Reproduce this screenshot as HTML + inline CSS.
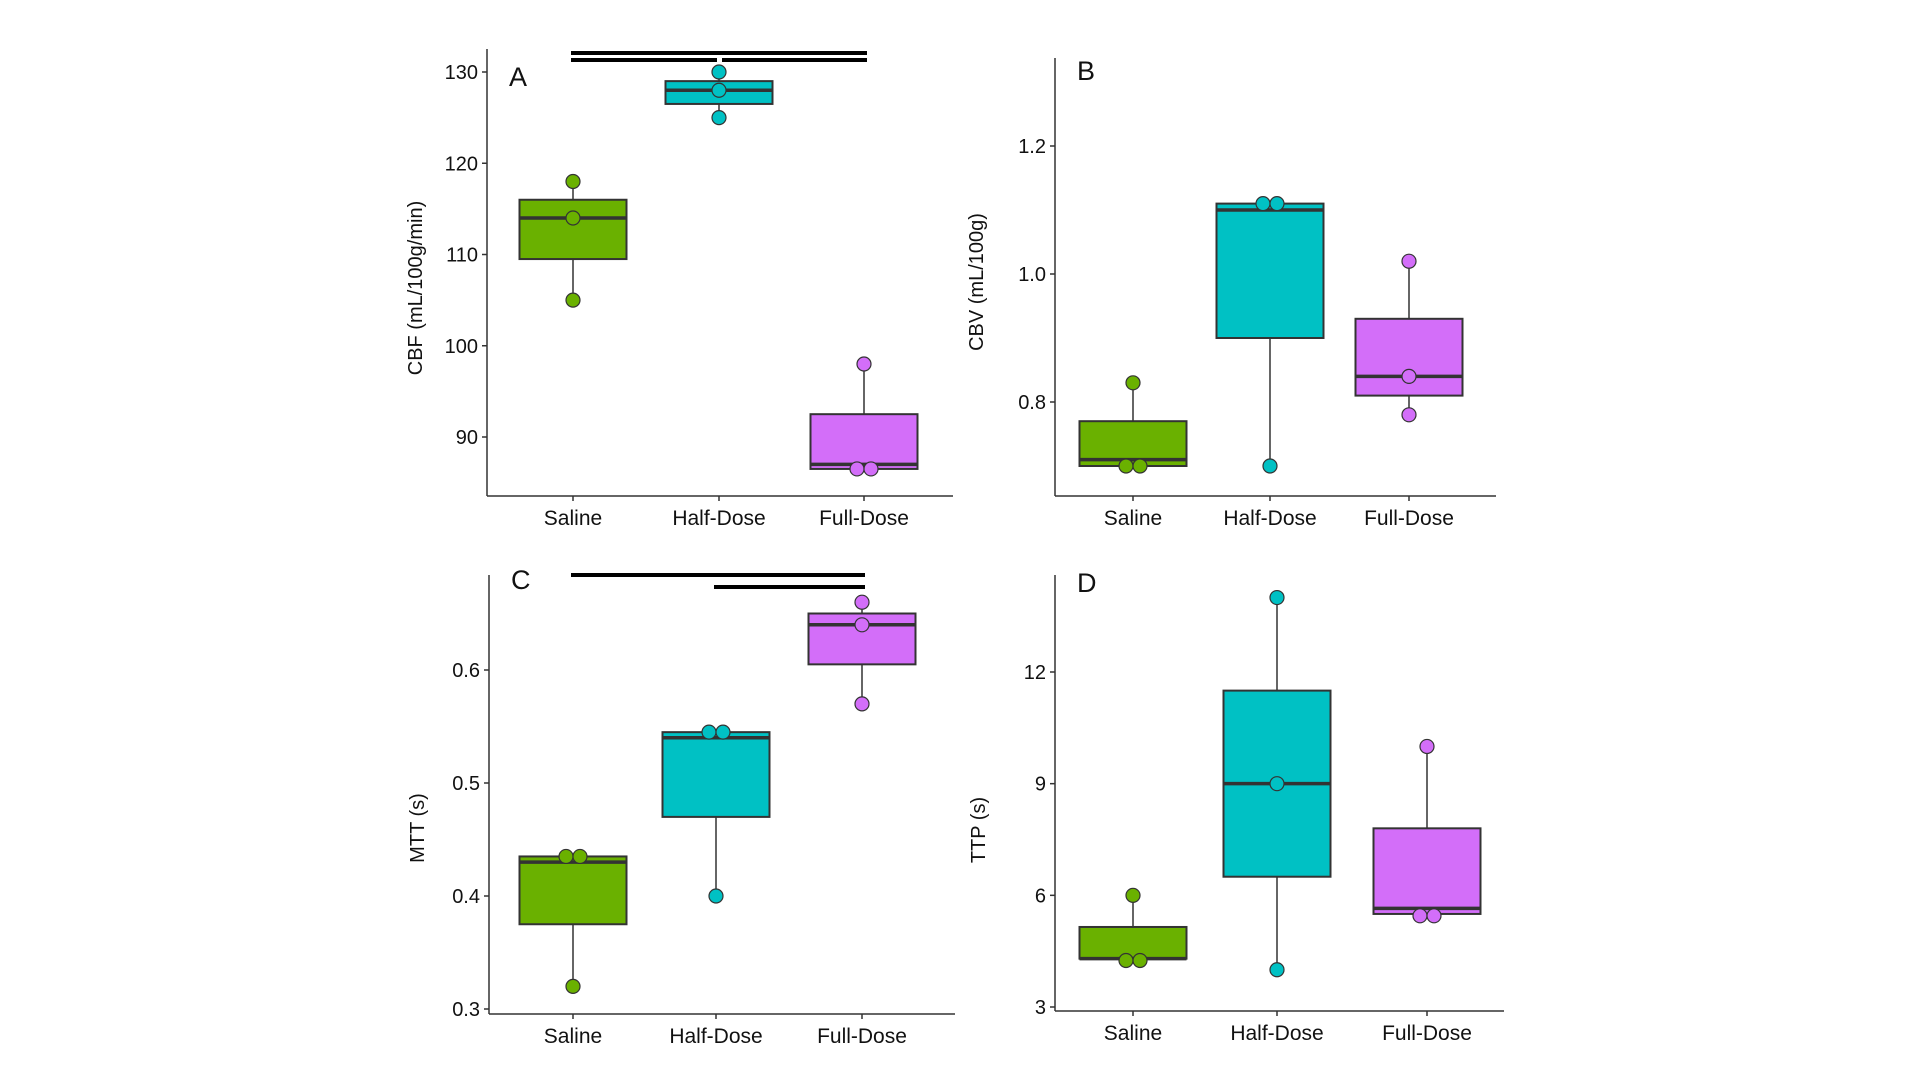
<!DOCTYPE html>
<html><head><meta charset="utf-8"><style>
html,body{margin:0;padding:0;background:#fff;width:1920px;height:1080px;overflow:hidden}
svg{display:block}
text{font-family:"Liberation Sans","DejaVu Sans",sans-serif;fill:#111}
</style></head><body>
<svg id="chart" width="1920" height="1080" viewBox="0 0 1920 1080" xmlns="http://www.w3.org/2000/svg"></svg>
<script>
const categories = ["Saline","Half-Dose","Full-Dose"];
const colors = ["#6ab100","#00c1c4","#d36ef9"];
// Panel A: CBF
const aTicks = [90,100,110,120,130];
const aBoxes = [[105,109.5,114,116,118],[125,126.5,128,129,130],[86.5,86.5,87,92.5,98]];
const aPoints = [[105,114,118],[125,128,130],[86.5,86.5,98]];
// Panel B: CBV
const bTicks = [0.8,1.0,1.2];
const bBoxes = [[0.70,0.70,0.71,0.77,0.83],[0.70,0.90,1.10,1.11,1.11],[0.78,0.81,0.84,0.93,1.02]];
const bPoints = [[0.70,0.70,0.83],[1.11,1.11,0.70],[0.78,0.84,1.02]];
// Panel C: MTT
const cTicks = [0.3,0.4,0.5,0.6];
const cBoxes = [[0.32,0.375,0.43,0.435,0.435],[0.40,0.47,0.54,0.545,0.545],[0.57,0.605,0.64,0.65,0.66]];
const cPoints = [[0.32,0.435,0.435],[0.40,0.545,0.545],[0.57,0.64,0.66]];
// Panel D: TTP
const dTicks = [3,6,9,12];
const dBoxes = [[4.25,4.3,4.3,5.15,6],[4,6.5,9,11.5,14],[5.45,5.5,5.65,7.8,10]];
const dPoints = [[4.25,4.25,6],[4,9,14],[5.45,5.45,10]];

const svg = document.getElementById('chart');
const NS = 'http://www.w3.org/2000/svg';
function mk(tag, attrs, parent){const e=document.createElementNS(NS,tag);for(const k in attrs)e.setAttribute(k,attrs[k]);(parent||svg).appendChild(e);return e;}

const panels = [
 {id:'a',letter:'A',letterY:86,title:'CBF (mL/100g/min)',ticks:aTicks,tickFmt:v=>String(v),boxes:aBoxes,points:aPoints,
  x0:487,x1:953,yTop:49,yBot:496,v0:130,p0:72,v1:90,p1:437,cx:[573,719,864],titleX:422,titleY:288,
  sig:[[0,2,53],[0,1,60,-5],[1,2,60,5]]},
 {id:'b',letter:'B',letterY:80,title:'CBV (mL/100g)',ticks:bTicks,tickFmt:v=>v.toFixed(1),boxes:bBoxes,points:bPoints,
  x0:1055,x1:1496,yTop:58,yBot:496,v0:1.2,p0:146,v1:0.8,p1:402,cx:[1133,1270,1409],titleX:983,titleY:282,sig:[]},
 {id:'c',letter:'C',letterY:589,title:'MTT (s)',ticks:cTicks,tickFmt:v=>v.toFixed(1),boxes:cBoxes,points:cPoints,
  x0:489,x1:955,yTop:575,yBot:1014,v0:0.6,p0:670,v1:0.3,p1:1009,cx:[573,716,862],titleX:424,titleY:828,
  sig:[[0,2,575],[1,2,587]]},
 {id:'d',letter:'D',letterY:592,title:'TTP (s)',ticks:dTicks,tickFmt:v=>String(v),boxes:dBoxes,points:dPoints,
  x0:1055,x1:1504,yTop:575,yBot:1011,v0:12,p0:672,v1:3,p1:1007,cx:[1133,1277,1427],titleX:985,titleY:830,sig:[]}
];

panels.forEach(p=>{
  const g = mk('g',{});
  
  
  const y = v => p.p0 + (v - p.v0) * (p.p1 - p.p0) / (p.v1 - p.v0);
  const bw = 107;
  const ya = mk('line',{x1:p.x0,y1:p.yTop,x2:p.x0,y2:p.yBot,stroke:'#333','stroke-width':1.5},g);
  
  
  const xa = mk('line',{x1:p.x0,y1:p.yBot,x2:p.x1,y2:p.yBot,stroke:'#333','stroke-width':1.5},g);
  
  
  p.ticks.forEach(t=>{
    const yy=y(t);
    mk('line',{x1:p.x0-5,y1:yy,x2:p.x0,y2:yy,stroke:'#333','stroke-width':1.5},g);
    const tx=mk('text',{x:p.x0-9,y:yy+7,'text-anchor':'end','font-size':20},g);
    tx.textContent=p.tickFmt(t);
    
    
  });
  categories.forEach((c,i)=>{
    mk('line',{x1:p.cx[i],y1:p.yBot,x2:p.cx[i],y2:p.yBot+5,stroke:'#333','stroke-width':1.5},g);
    const tx=mk('text',{x:p.cx[i],y:p.yBot+29,'text-anchor':'middle','font-size':21},g);
    tx.textContent=c;
    
    
  });
  const ti=mk('text',{x:p.titleX,y:p.titleY,'text-anchor':'middle','font-size':20,transform:`rotate(-90 ${p.titleX} ${p.titleY})`},g);
  ti.textContent=p.title;
  
  
  const lt=mk('text',{x:p.x0+22,y:p.letterY,'font-size':27},g);
  lt.textContent=p.letter;
  
  
  p.boxes.forEach((b,i)=>{
    const cx=p.cx[i];
    const bx=mk('g',{},g);
    
    
    mk('line',{x1:cx,y1:y(b[0]),x2:cx,y2:y(b[4]),stroke:'#333','stroke-width':1.5},bx);
    mk('rect',{x:cx-bw/2,y:y(b[3]),width:bw,height:Math.max(1,y(b[1])-y(b[3])),fill:colors[i],stroke:'#333','stroke-width':2},bx);
    mk('line',{x1:cx-bw/2,y1:y(b[2]),x2:cx+bw/2,y2:y(b[2]),stroke:'#333','stroke-width':3.5},bx);
    const pts=p.points[i];
    pts.forEach((v,j)=>{
      const dup=pts.filter(w=>w===v).length>1;
      let off=0;
      if(dup){const k=pts.slice(0,j).filter(w=>w===v).length;off=k===0?-7:7;}
      const c=mk('circle',{cx:cx+off,cy:y(v),r:7,fill:colors[i],stroke:'#333','stroke-width':1.2},bx);
      
      
    });
  });
  p.sig.forEach(s=>{
    const xs=p.cx[s[0]]+(s[3]>0?s[3]:0)-2, xe=p.cx[s[1]]+(s[3]<0?s[3]:0)+3;
    const l=mk('line',{x1:xs,y1:s[2],x2:xe,y2:s[2],stroke:'#000','stroke-width':4},g);
    
    
  });
});
</script>
</body></html>
